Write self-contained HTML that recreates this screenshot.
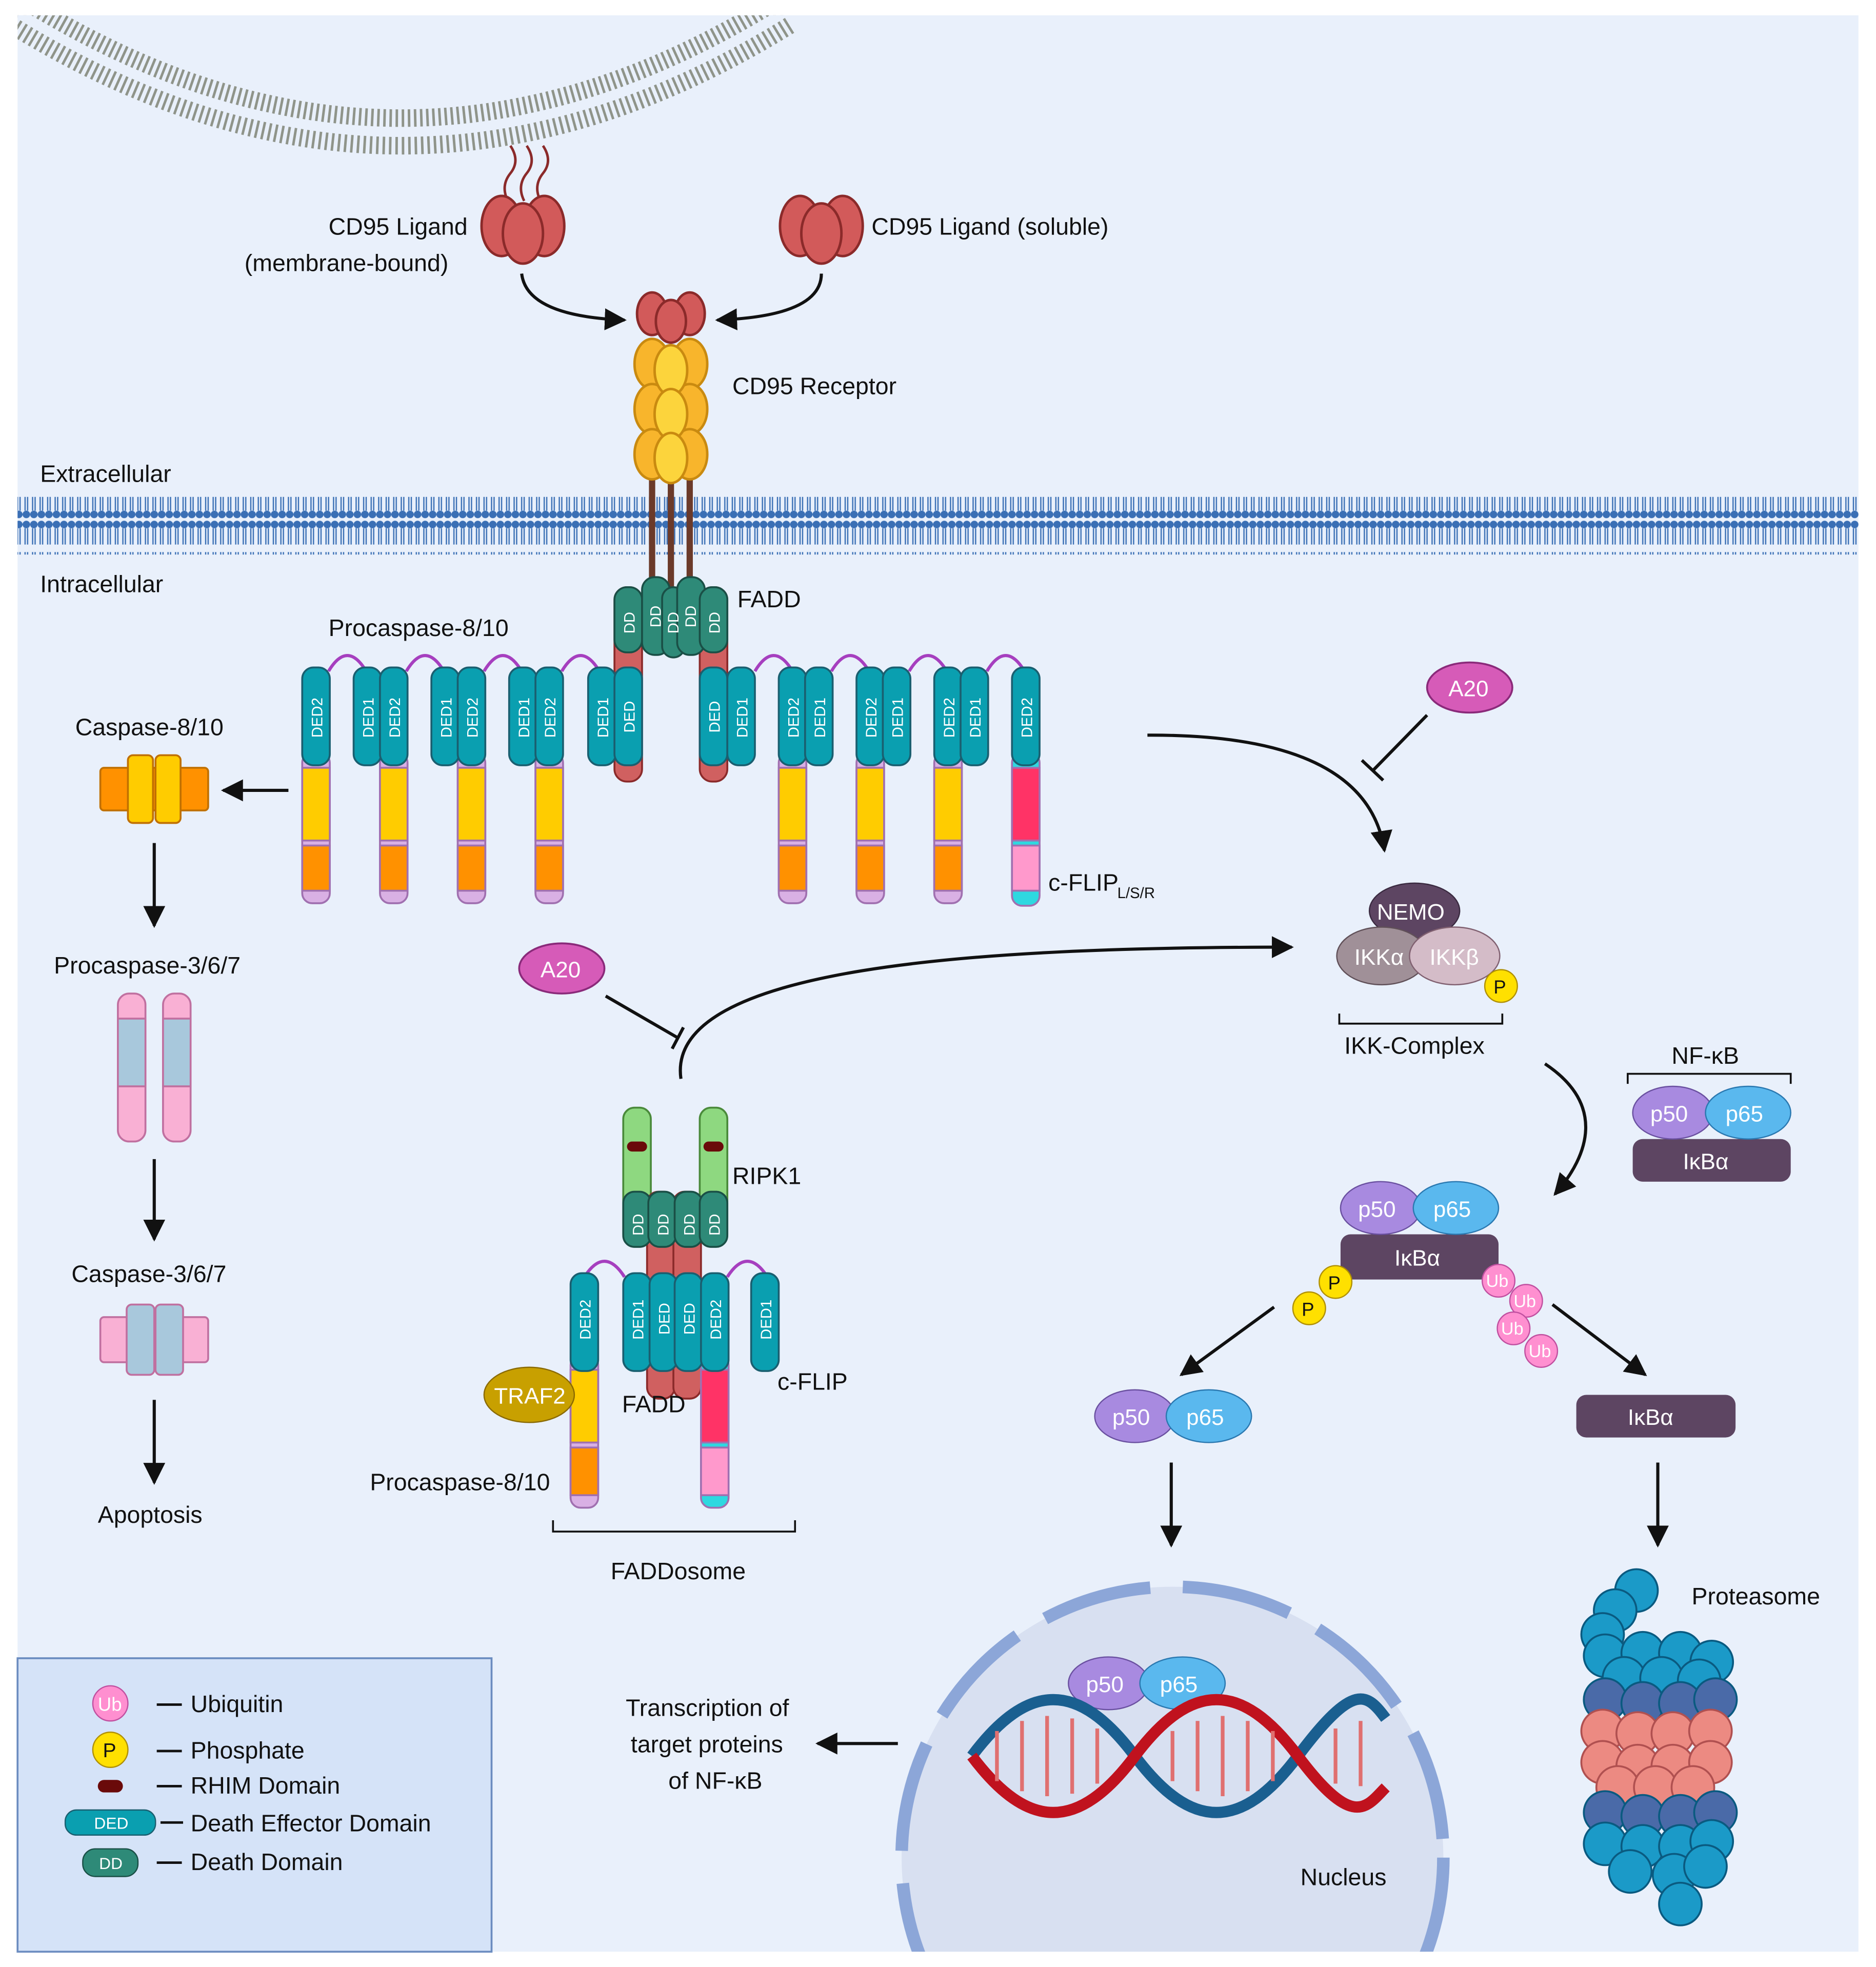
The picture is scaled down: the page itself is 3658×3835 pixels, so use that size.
<!DOCTYPE html>
<html><head><meta charset="utf-8"><style>
html,body{margin:0;padding:0;background:#fff;overflow:hidden}
svg{display:block}
text{font-family:"Liberation Sans",sans-serif;fill:#111}
.t{font-size:19px}
.w{fill:#fff;font-size:18px}
.dt{fill:#fff;font-size:12px}
</style></head><body>
<svg width="3658" height="3835" viewBox="0 0 1496 1568" xmlns="http://www.w3.org/2000/svg">
<defs>
<marker id="ar" viewBox="0 0 10 10" refX="9" refY="5" markerWidth="7" markerHeight="7" orient="auto"><path d="M0 0L10 5L0 10z" fill="#111"/></marker>
<pattern id="mem" width="6" height="46" patternUnits="userSpaceOnUse"><circle cx="3" cy="4" r="3" fill="#3a6fb5"/><circle cx="3" cy="42" r="3" fill="#3a6fb5"/><line x1="2" y1="7" x2="2" y2="20" stroke="#3a6fb5" stroke-width="1"/><line x1="4" y1="7" x2="4" y2="20" stroke="#3a6fb5" stroke-width="1"/><line x1="2" y1="26" x2="2" y2="39" stroke="#3a6fb5" stroke-width="1"/><line x1="4" y1="26" x2="4" y2="39" stroke="#3a6fb5" stroke-width="1"/></pattern>
<clipPath id="panel"><rect x="14" y="12" width="1468" height="1544"/></clipPath>
</defs>
<rect width="1496" height="1568" fill="#fff"/>
<rect x="14" y="12" width="1468" height="1544" fill="#e9f0fb"/>
<g clip-path="url(#panel)">
<path d="M14 10 Q320 200 625 10" fill="none" stroke="#8f948a" stroke-width="36" stroke-dasharray="2 3"/>
<path d="M14 10 Q320 200 625 10" fill="none" stroke="#e9f0fb" stroke-width="8"/>
<circle cx="935" cy="1481" r="216" fill="#d8e0f1"/>
<circle cx="935" cy="1481" r="216" fill="none" stroke="#8ca6d8" stroke-width="10" stroke-dasharray="88 26"/>
</g>
<rect x="14" y="396" width="1468" height="46" fill="url(#mem)"/>
<text class="t" x="32" y="384">Extracellular</text>
<text class="t" x="32" y="472">Intracellular</text>
<g stroke="#8b2a2a" stroke-width="2" fill="none"><path d="M405 160 q-6-12 2-22 q8-10 0-22"/><path d="M418 160 q-6-12 2-22 q8-10 0-22"/><path d="M431 160 q-6-12 2-22 q8-10 0-22"/></g>
<g fill="#d25a5a" stroke="#8b2a2a" stroke-width="2"><ellipse cx="400" cy="180" rx="16" ry="24"/><ellipse cx="434" cy="180" rx="16" ry="24"/><ellipse cx="417" cy="186" rx="16" ry="24"/>
<ellipse cx="638" cy="180" rx="16" ry="24"/><ellipse cx="672" cy="180" rx="16" ry="24"/><ellipse cx="655" cy="186" rx="16" ry="24"/></g>
<text class="t" x="262" y="187">CD95 Ligand</text><text class="t" x="195" y="216">(membrane-bound)</text>
<text class="t" x="695" y="187">CD95 Ligand (soluble)</text>
<path d="M416 218 Q420 252 498 255" fill="none" stroke="#111" stroke-width="2.5" marker-end="url(#ar)"/>
<path d="M655 218 Q655 252 572 255" fill="none" stroke="#111" stroke-width="2.5" marker-end="url(#ar)"/>
<g stroke="#6b3a2a" stroke-width="5"><line x1="520" y1="375" x2="520" y2="470"/><line x1="535" y1="375" x2="535" y2="470"/><line x1="550" y1="375" x2="550" y2="470"/></g>
<g fill="#f8b52c" stroke="#c98a10" stroke-width="2"><ellipse cx="520" cy="290" rx="14" ry="20"/><ellipse cx="550" cy="290" rx="14" ry="20"/><ellipse cx="520" cy="326" rx="14" ry="20"/><ellipse cx="550" cy="326" rx="14" ry="20"/><ellipse cx="520" cy="362" rx="14" ry="20"/><ellipse cx="550" cy="362" rx="14" ry="20"/>
<ellipse cx="535" cy="295" rx="13" ry="20" fill="#fcd43c"/><ellipse cx="535" cy="330" rx="13" ry="20" fill="#fcd43c"/><ellipse cx="535" cy="365" rx="13" ry="20" fill="#fcd43c"/></g>
<g fill="#d25a5a" stroke="#8b2a2a" stroke-width="2"><ellipse cx="520" cy="250" rx="12" ry="17"/><ellipse cx="550" cy="250" rx="12" ry="17"/><ellipse cx="535" cy="256" rx="12" ry="17"/></g>
<text class="t" x="584" y="314">CD95 Receptor</text>
<g fill="#d06060" stroke="#8b2a2a" stroke-width="1.5"><rect x="490" y="468" width="22" height="155" rx="10"/><rect x="558" y="468" width="22" height="155" rx="10"/></g>
<g fill="#2e8a78" stroke="#1a4f46" stroke-width="1.5"><rect x="490" y="468" width="22" height="52" rx="10"/><rect x="512" y="460" width="22" height="62" rx="10"/><rect x="528" y="468" width="18" height="56" rx="9"/><rect x="540" y="460" width="22" height="62" rx="10"/><rect x="558" y="468" width="22" height="52" rx="10"/></g>
<text class="dt" transform="translate(506 505) rotate(-90)">DD</text><text class="dt" transform="translate(527 500) rotate(-90)">DD</text><text class="dt" transform="translate(541 505) rotate(-90)">DD</text><text class="dt" transform="translate(555 500) rotate(-90)">DD</text><text class="dt" transform="translate(574 505) rotate(-90)">DD</text>
<text class="t" x="588" y="484">FADD</text>
<text class="t" x="262" y="507">Procaspase-8/10</text>
<g fill="none" stroke="#a63fbf" stroke-width="2.5">
<path d="M262 535 q15-25 30 0"/><path d="M324 535 q15-25 30 0"/><path d="M386 535 q15-25 30 0"/><path d="M448 535 q15-25 30 0"/>
<path d="M602 535 q15-25 30 0"/><path d="M663 535 q15-25 30 0"/><path d="M725 535 q15-25 30 0"/><path d="M787 535 q15-25 30 0"/>
</g>
<g stroke="#a070b0" stroke-width="1.5">
<g id="low"><rect x="241" y="600" width="22" height="120" rx="8" fill="#d9b0e4"/><rect x="241" y="612" width="22" height="58" fill="#ffcc00"/><rect x="241" y="674" width="22" height="36" fill="#ff9100"/></g>
<use href="#low" x="62"/><use href="#low" x="124"/><use href="#low" x="186"/><use href="#low" x="380"/><use href="#low" x="442"/><use href="#low" x="504"/>
<rect x="807" y="600" width="22" height="122" rx="8" fill="#2ed8e0"/><rect x="807" y="612" width="22" height="58" fill="#ff3366"/><rect x="807" y="674" width="22" height="36" fill="#ff99cc"/>
</g>
<g fill="#0a9fb0" stroke="#1a5f70" stroke-width="1.5">
<rect x="241" y="532" width="22" height="78" rx="9"/><rect x="282" y="532" width="22" height="78" rx="9"/><rect x="303" y="532" width="22" height="78" rx="9"/>
<rect x="344" y="532" width="22" height="78" rx="9"/><rect x="365" y="532" width="22" height="78" rx="9"/><rect x="406" y="532" width="22" height="78" rx="9"/><rect x="427" y="532" width="22" height="78" rx="9"/>
<rect x="469" y="532" width="22" height="78" rx="9"/><rect x="490" y="532" width="22" height="78" rx="9"/><rect x="558" y="532" width="22" height="78" rx="9"/><rect x="580" y="532" width="22" height="78" rx="9"/>
<rect x="621" y="532" width="22" height="78" rx="9"/><rect x="642" y="532" width="22" height="78" rx="9"/><rect x="683" y="532" width="22" height="78" rx="9"/><rect x="704" y="532" width="22" height="78" rx="9"/>
<rect x="745" y="532" width="22" height="78" rx="9"/><rect x="766" y="532" width="22" height="78" rx="9"/><rect x="807" y="532" width="22" height="78" rx="9"/>
</g>
<text class="dt" transform="translate(257 588) rotate(-90)">DED2</text><text class="dt" transform="translate(298 588) rotate(-90)">DED1</text><text class="dt" transform="translate(319 588) rotate(-90)">DED2</text>
<text class="dt" transform="translate(360 588) rotate(-90)">DED1</text><text class="dt" transform="translate(381 588) rotate(-90)">DED2</text><text class="dt" transform="translate(422 588) rotate(-90)">DED1</text><text class="dt" transform="translate(443 588) rotate(-90)">DED2</text>
<text class="dt" transform="translate(485 588) rotate(-90)">DED1</text><text class="dt" transform="translate(506 584) rotate(-90)">DED</text><text class="dt" transform="translate(574 584) rotate(-90)">DED</text><text class="dt" transform="translate(596 588) rotate(-90)">DED1</text>
<text class="dt" transform="translate(637 588) rotate(-90)">DED2</text><text class="dt" transform="translate(658 588) rotate(-90)">DED1</text><text class="dt" transform="translate(699 588) rotate(-90)">DED2</text><text class="dt" transform="translate(720 588) rotate(-90)">DED1</text>
<text class="dt" transform="translate(761 588) rotate(-90)">DED2</text><text class="dt" transform="translate(782 588) rotate(-90)">DED1</text><text class="dt" transform="translate(823 588) rotate(-90)">DED2</text>
<text class="t" x="836" y="710">c-FLIP</text><text x="891" y="716" font-size="12">L/S/R</text>
<text class="t" x="60" y="586">Caspase-8/10</text>
<g stroke="#c07000" stroke-width="1.5"><rect x="80" y="612" width="86" height="34" rx="3" fill="#ff9100"/><rect x="102" y="602" width="20" height="54" rx="4" fill="#ffcc00"/><rect x="124" y="602" width="20" height="54" rx="4" fill="#ffcc00"/></g>
<line x1="230" y1="630" x2="178" y2="630" stroke="#111" stroke-width="2.5" marker-end="url(#ar)"/>
<line x1="123" y1="672" x2="123" y2="738" stroke="#111" stroke-width="2.5" marker-end="url(#ar)"/>
<text class="t" x="43" y="776">Procaspase-3/6/7</text>
<g stroke="#c070a0" stroke-width="1.5"><rect x="94" y="792" width="22" height="118" rx="9" fill="#f9b0d4"/><rect x="130" y="792" width="22" height="118" rx="9" fill="#f9b0d4"/><rect x="94" y="812" width="22" height="54" fill="#a8c8dc"/><rect x="130" y="812" width="22" height="54" fill="#a8c8dc"/></g>
<line x1="123" y1="924" x2="123" y2="988" stroke="#111" stroke-width="2.5" marker-end="url(#ar)"/>
<text class="t" x="57" y="1022">Caspase-3/6/7</text>
<g stroke="#c070a0" stroke-width="1.5"><rect x="80" y="1050" width="86" height="36" rx="3" fill="#f9b0d4"/><rect x="101" y="1040" width="22" height="56" rx="4" fill="#a8c8dc"/><rect x="124" y="1040" width="22" height="56" rx="4" fill="#a8c8dc"/></g>
<line x1="123" y1="1116" x2="123" y2="1182" stroke="#111" stroke-width="2.5" marker-end="url(#ar)"/>
<text class="t" x="78" y="1214">Apoptosis</text>
<ellipse cx="1172" cy="548" rx="34" ry="20" fill="#d65bb8" stroke="#8a2a7a" stroke-width="1.5"/><text class="w" x="1155" y="555">A20</text>
<line x1="1138" y1="570" x2="1095" y2="614" stroke="#111" stroke-width="2.5"/><line x1="1086" y1="606" x2="1103" y2="622" stroke="#111" stroke-width="2.5"/>
<path d="M915 586 Q1090 585 1104 678" fill="none" stroke="#111" stroke-width="2.5" marker-end="url(#ar)"/>
<ellipse cx="1128" cy="726" rx="36" ry="22" fill="#5d4562" stroke="#3a2a40"/><text class="w" x="1098" y="733">NEMO</text>
<ellipse cx="1102" cy="762" rx="36" ry="23" fill="#a09098" stroke="#605058"/><text class="w" x="1080" y="769">IKKα</text>
<ellipse cx="1160" cy="762" rx="36" ry="23" fill="#d4bcc8" stroke="#806070"/><text class="w" x="1140" y="769">IKKβ</text>
<circle cx="1197" cy="786" r="13" fill="#ffe000" stroke="#b09000"/><text x="1191" y="792" font-size="15">P</text>
<path d="M1068 808 v8 h130 v-8" fill="none" stroke="#111" stroke-width="1.5"/>
<text class="t" x="1072" y="840">IKK-Complex</text>
<ellipse cx="448" cy="772" rx="34" ry="20" fill="#d65bb8" stroke="#8a2a7a" stroke-width="1.5"/><text class="w" x="431" y="779">A20</text>
<line x1="483" y1="794" x2="540" y2="827" stroke="#111" stroke-width="2.5"/><line x1="536" y1="836" x2="545" y2="819" stroke="#111" stroke-width="2.5"/>
<path d="M543 860 C530 770 780 755 1030 755" fill="none" stroke="#111" stroke-width="2.5" marker-end="url(#ar)"/>
<g stroke="#4a8a3a" stroke-width="1.5" fill="#8ed880"><rect x="497" y="883" width="22" height="110" rx="9"/><rect x="558" y="883" width="22" height="110" rx="9"/></g>
<rect x="500" y="910" width="16" height="8" rx="4" fill="#6a0a0a"/><rect x="561" y="910" width="16" height="8" rx="4" fill="#6a0a0a"/>
<g fill="#d06060" stroke="#8b2a2a" stroke-width="1.5"><rect x="516" y="950" width="22" height="165" rx="9"/><rect x="537" y="950" width="22" height="165" rx="9"/></g>
<g fill="#2e8a78" stroke="#1a4f46" stroke-width="1.5"><rect x="497" y="950" width="22" height="44" rx="9"/><rect x="517" y="950" width="22" height="44" rx="9"/><rect x="538" y="950" width="22" height="44" rx="9"/><rect x="558" y="950" width="22" height="44" rx="9"/></g>
<text class="dt" transform="translate(513 985) rotate(-90)">DD</text><text class="dt" transform="translate(533 985) rotate(-90)">DD</text><text class="dt" transform="translate(554 985) rotate(-90)">DD</text><text class="dt" transform="translate(574 985) rotate(-90)">DD</text>
<text class="t" x="584" y="944">RIPK1</text>
<g fill="none" stroke="#a63fbf" stroke-width="2.5"><path d="M466 1018 q16-25 32 0"/><path d="M580 1018 q16-25 32 0"/></g>
<g stroke="#a070b0" stroke-width="1.5"><rect x="455" y="1080" width="22" height="122" rx="8" fill="#d9b0e4"/><rect x="455" y="1092" width="22" height="58" fill="#ffcc00"/><rect x="455" y="1154" width="22" height="38" fill="#ff9100"/>
<rect x="559" y="1080" width="22" height="122" rx="8" fill="#2ed8e0"/><rect x="559" y="1092" width="22" height="58" fill="#ff3366"/><rect x="559" y="1154" width="22" height="38" fill="#ff99cc"/></g>
<g fill="#0a9fb0" stroke="#1a5f70" stroke-width="1.5"><rect x="455" y="1015" width="22" height="78" rx="9"/><rect x="497" y="1015" width="22" height="78" rx="9"/><rect x="518" y="1015" width="22" height="78" rx="9"/><rect x="538" y="1015" width="22" height="78" rx="9"/><rect x="559" y="1015" width="22" height="78" rx="9"/><rect x="599" y="1015" width="22" height="78" rx="9"/></g>
<text class="dt" transform="translate(471 1068) rotate(-90)">DED2</text><text class="dt" transform="translate(513 1068) rotate(-90)">DED1</text><text class="dt" transform="translate(534 1064) rotate(-90)">DED</text><text class="dt" transform="translate(554 1064) rotate(-90)">DED</text><text class="dt" transform="translate(575 1068) rotate(-90)">DED2</text><text class="dt" transform="translate(615 1068) rotate(-90)">DED1</text>
<ellipse cx="422" cy="1112" rx="36" ry="22" fill="#c8a000" stroke="#8a6a00"/><text class="w" x="394" y="1119">TRAF2</text>
<text class="t" x="496" y="1126">FADD</text><text class="t" x="620" y="1108">c-FLIP</text>
<text class="t" x="295" y="1188">Procaspase-8/10</text>
<path d="M441 1212 v9 h193 v-9" fill="none" stroke="#111" stroke-width="1.5"/>
<text class="t" x="487" y="1259">FADDosome</text>
<path d="M1298 864 v-8 h130 v8" fill="none" stroke="#111" stroke-width="1.5"/>
<text class="t" x="1333" y="848">NF-κB</text>
<rect x="1302" y="908" width="126" height="34" rx="8" fill="#5d4562"/><text class="w" x="1342" y="932">IκBα</text>
<ellipse cx="1334" cy="887" rx="32" ry="21" fill="#a88ae0" stroke="#6a50a0"/><text class="w" x="1316" y="894">p50</text>
<ellipse cx="1394" cy="887" rx="34" ry="21" fill="#5ab8ee" stroke="#2a78b0"/><text class="w" x="1376" y="894">p65</text>
<path d="M1232 848 C1280 880 1268 920 1240 952" fill="none" stroke="#111" stroke-width="2.5" marker-end="url(#ar)"/>
<rect x="1069" y="984" width="126" height="36" rx="8" fill="#5d4562"/><text class="w" x="1112" y="1009">IκBα</text>
<ellipse cx="1101" cy="963" rx="32" ry="21" fill="#a88ae0" stroke="#6a50a0"/><text class="w" x="1083" y="970">p50</text>
<ellipse cx="1161" cy="963" rx="34" ry="21" fill="#5ab8ee" stroke="#2a78b0"/><text class="w" x="1143" y="970">p65</text>
<g fill="#ffe000" stroke="#b09000"><circle cx="1065" cy="1022" r="13"/><circle cx="1044" cy="1043" r="13"/></g>
<text x="1059" y="1028" font-size="15">P</text><text x="1038" y="1049" font-size="15">P</text>
<g fill="#ff8fd0" stroke="#c050a0"><circle cx="1195" cy="1021" r="13"/><circle cx="1217" cy="1037" r="13"/><circle cx="1207" cy="1059" r="13"/><circle cx="1229" cy="1077" r="13"/></g>
<text class="dt" x="1185" y="1026" style="font-size:14px">Ub</text><text class="dt" x="1207" y="1042" style="font-size:14px">Ub</text><text class="dt" x="1197" y="1064" style="font-size:14px">Ub</text><text class="dt" x="1219" y="1082" style="font-size:14px">Ub</text>
<line x1="1016" y1="1042" x2="942" y2="1096" stroke="#111" stroke-width="2.5" marker-end="url(#ar)"/>
<line x1="1238" y1="1040" x2="1312" y2="1096" stroke="#111" stroke-width="2.5" marker-end="url(#ar)"/>
<ellipse cx="905" cy="1129" rx="32" ry="21" fill="#a88ae0" stroke="#6a50a0"/><text class="w" x="887" y="1136">p50</text>
<ellipse cx="964" cy="1129" rx="34" ry="21" fill="#5ab8ee" stroke="#2a78b0"/><text class="w" x="946" y="1136">p65</text>
<rect x="1257" y="1112" width="127" height="34" rx="8" fill="#5d4562"/><text class="w" x="1298" y="1136">IκBα</text>
<line x1="934" y1="1166" x2="934" y2="1232" stroke="#111" stroke-width="2.5" marker-end="url(#ar)"/>
<line x1="1322" y1="1166" x2="1322" y2="1232" stroke="#111" stroke-width="2.5" marker-end="url(#ar)"/>
<ellipse cx="884" cy="1342" rx="32" ry="21" fill="#a88ae0" stroke="#6a50a0"/><text class="w" x="866" y="1349">p50</text>
<ellipse cx="943" cy="1342" rx="34" ry="21" fill="#5ab8ee" stroke="#2a78b0"/><text class="w" x="925" y="1349">p65</text>
<g fill="none" stroke-width="9"><path d="M775 1400 C820 1340 860 1340 905 1400 S990 1460 1035 1400 S1090 1350 1105 1370" stroke="#1a5f90"/>
<path d="M775 1400 C820 1460 860 1460 905 1400 S990 1340 1035 1400 S1090 1440 1105 1425" stroke="#c0121e"/></g>
<g stroke="#e07070" stroke-width="3"><line x1="795" y1="1380" x2="795" y2="1420"/><line x1="815" y1="1372" x2="815" y2="1428"/><line x1="835" y1="1368" x2="835" y2="1432"/><line x1="855" y1="1370" x2="855" y2="1430"/><line x1="875" y1="1378" x2="875" y2="1422"/><line x1="935" y1="1380" x2="935" y2="1420"/><line x1="955" y1="1372" x2="955" y2="1428"/><line x1="975" y1="1368" x2="975" y2="1432"/><line x1="995" y1="1372" x2="995" y2="1428"/><line x1="1015" y1="1380" x2="1015" y2="1420"/><line x1="1065" y1="1378" x2="1065" y2="1422"/><line x1="1085" y1="1372" x2="1085" y2="1424"/></g>
<text class="t" x="1037" y="1503">Nucleus</text>
<line x1="716" y1="1390" x2="652" y2="1390" stroke="#111" stroke-width="2.5" marker-end="url(#ar)"/>
<text class="t" x="499" y="1368">Transcription of</text><text class="t" x="503" y="1397">target proteins</text><text class="t" x="533" y="1426">of NF-κB</text>
<text class="t" x="1349" y="1279">Proteasome</text>
<g stroke="#0a5a80" stroke-width="1.5">
<g fill="#1b9ac8"><circle cx="1305" cy="1268" r="17"/><circle cx="1288" cy="1284" r="17"/><circle cx="1278" cy="1303" r="17"/>
<circle cx="1280" cy="1320" r="17"/><circle cx="1310" cy="1318" r="17"/><circle cx="1340" cy="1318" r="17"/><circle cx="1365" cy="1325" r="17"/><circle cx="1295" cy="1338" r="17"/><circle cx="1325" cy="1338" r="17"/><circle cx="1355" cy="1340" r="17"/></g>
<g fill="#4a6aa8"><circle cx="1280" cy="1355" r="17"/><circle cx="1310" cy="1358" r="17"/><circle cx="1340" cy="1358" r="17"/><circle cx="1368" cy="1355" r="17"/></g>
<g fill="#ec8a82" stroke="#b05050"><circle cx="1278" cy="1380" r="17"/><circle cx="1306" cy="1382" r="17"/><circle cx="1334" cy="1382" r="17"/><circle cx="1364" cy="1380" r="17"/><circle cx="1278" cy="1405" r="17"/><circle cx="1306" cy="1408" r="17"/><circle cx="1334" cy="1408" r="17"/><circle cx="1364" cy="1405" r="17"/><circle cx="1290" cy="1425" r="17"/><circle cx="1320" cy="1425" r="17"/><circle cx="1350" cy="1425" r="17"/></g>
<g fill="#4a6aa8"><circle cx="1280" cy="1445" r="17"/><circle cx="1310" cy="1448" r="17"/><circle cx="1340" cy="1448" r="17"/><circle cx="1368" cy="1445" r="17"/></g>
<g fill="#1b9ac8"><circle cx="1280" cy="1470" r="17"/><circle cx="1310" cy="1472" r="17"/><circle cx="1340" cy="1472" r="17"/><circle cx="1365" cy="1468" r="17"/><circle cx="1300" cy="1492" r="17"/><circle cx="1335" cy="1495" r="17"/><circle cx="1360" cy="1488" r="17"/><circle cx="1340" cy="1518" r="17"/></g>
</g>
<rect x="14" y="1322" width="378" height="234" fill="#d5e3f8" stroke="#6b8cc0" stroke-width="1.5"/>
<circle cx="88" cy="1358" r="14" fill="#ff8fd0" stroke="#c050a0"/><text x="78" y="1364" style="font-size:15px;fill:#fff">Ub</text>
<circle cx="88" cy="1395" r="14" fill="#ffe000" stroke="#b09000"/><text x="82" y="1401" font-size="16">P</text>
<rect x="78" y="1419" width="20" height="10" rx="5" fill="#6a0a0a"/>
<rect x="52" y="1443" width="72" height="20" rx="9" fill="#0a9fb0" stroke="#1a5f70"/><text x="75" y="1458" style="font-size:13px;fill:#fff">DED</text>
<rect x="66" y="1474" width="44" height="22" rx="10" fill="#2e8a78" stroke="#1a4f46"/><text x="79" y="1490" style="font-size:13px;fill:#fff">DD</text>
<g stroke="#111" stroke-width="2"><line x1="125" y1="1359" x2="145" y2="1359"/><line x1="125" y1="1396" x2="145" y2="1396"/><line x1="125" y1="1424" x2="145" y2="1424"/><line x1="128" y1="1453" x2="146" y2="1453"/><line x1="125" y1="1485" x2="145" y2="1485"/></g>
<text class="t" x="152" y="1365">Ubiquitin</text><text class="t" x="152" y="1402">Phosphate</text><text class="t" x="152" y="1430">RHIM Domain</text><text class="t" x="152" y="1460">Death Effector Domain</text><text class="t" x="152" y="1491">Death Domain</text>
</svg>
</body></html>
